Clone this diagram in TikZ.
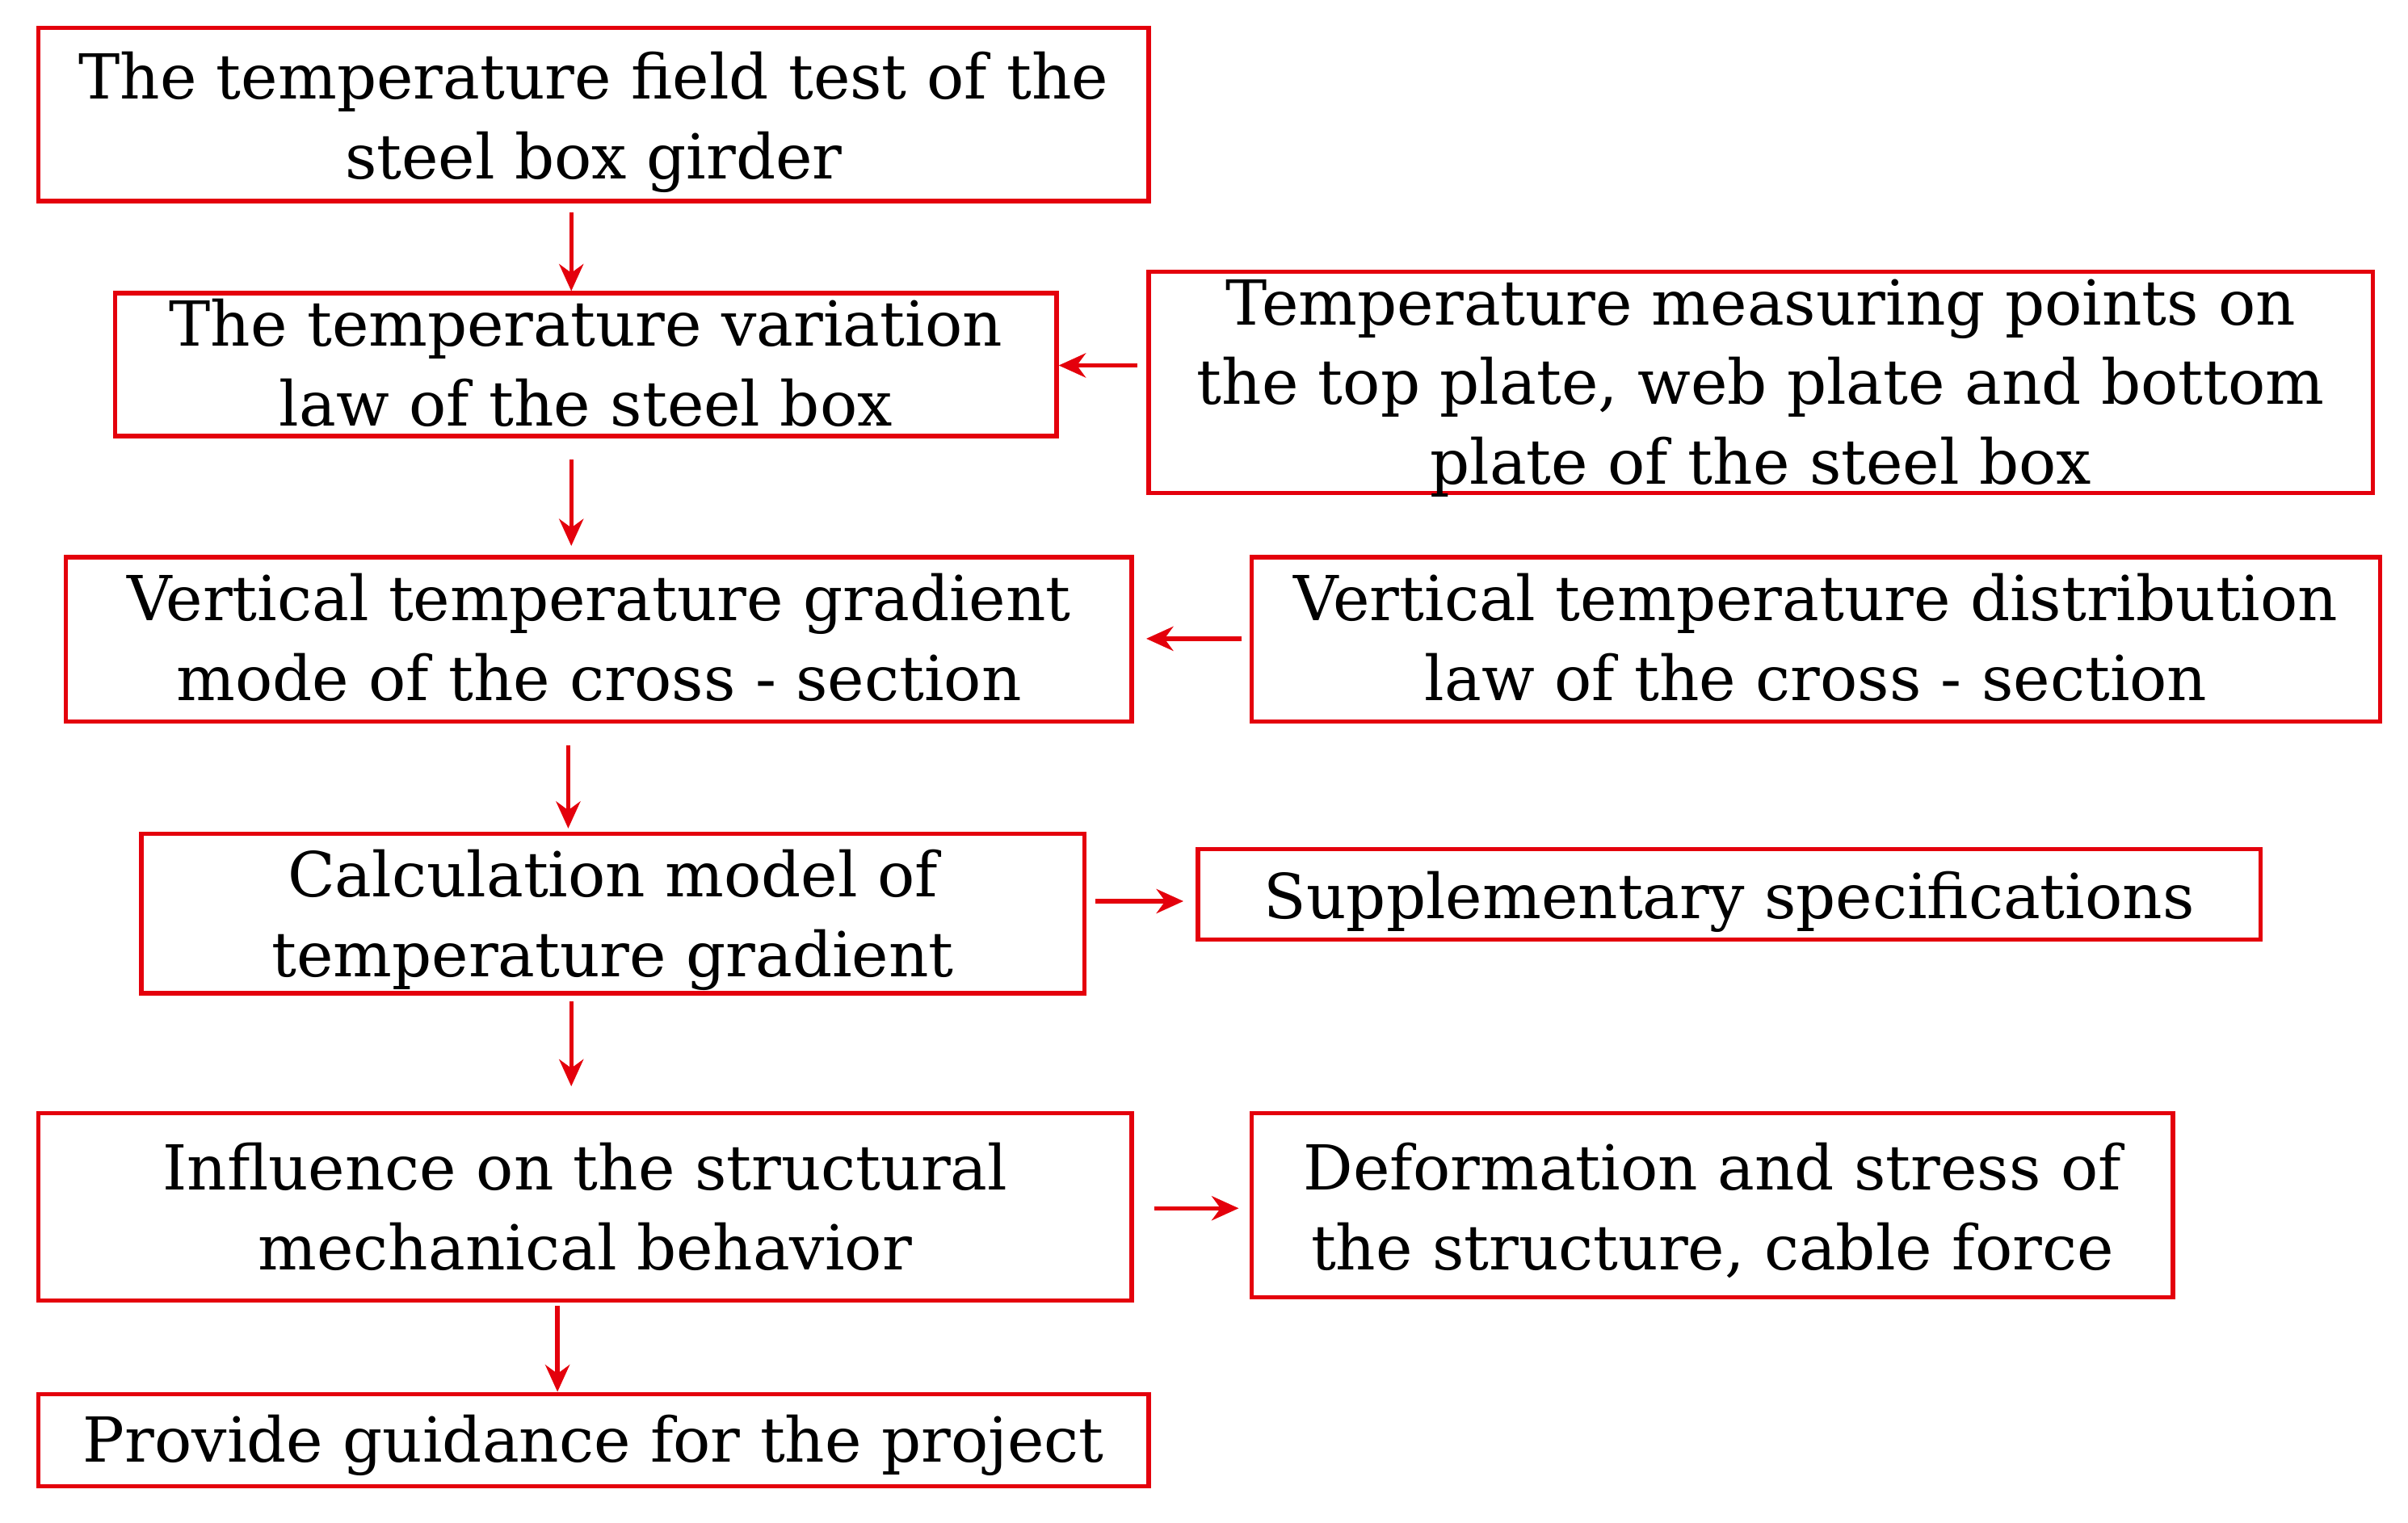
\documentclass[tikz,border=0pt]{standalone}
\usepackage{fontspec}
\setmainfont{DejaVu Serif}
\usetikzlibrary{arrows.meta}
\definecolor{boxred}{RGB}{228,0,12}
\newcommand\ltxt[2]{\raisebox{\dimexpr#1-5.75pt\relax}[0pt][0pt]{\begin{tabular}{@{}c@{}}#2\end{tabular}}}
\begin{document}
\begin{tikzpicture}[x=0.02cm,y=-0.02cm,
  box/.style={draw=boxred,line width=1.6pt,inner sep=0pt,
    font=\fontsize{23}{29.6}\selectfont},
  arr/.style={draw=boxred,line width=1.6pt,-{Stealth[length=10pt,width=9pt]}}]
\useasboundingbox (0,0) rectangle (1568,992);
\fill[white] (0,0) rectangle (1568,992);
\node[box,minimum width=723*0.02cm,minimum height=113*0.02cm] (b1) at (386.5,74.5)
  {\ltxt{-3.6pt}{The temperature field test of the\\steel box girder}};
\node[box,minimum width=613*0.02cm,minimum height=93*0.02cm] (b2) at (381.5,237.5)
  {\ltxt{-2.5pt}{The temperature variation\\law of the steel box}};
\node[box,minimum width=797*0.02cm,minimum height=144*0.02cm] (b3) at (1146.5,249)
  {\ltxt{-2.8pt}{Temperature measuring points on\\the top plate, web plate and bottom\\plate of the steel box}};
\node[box,minimum width=694*0.02cm,minimum height=107*0.02cm] (b4) at (390,416.5)
  {\ltxt{-2.5pt}{Vertical temperature gradient\\mode of the cross - section}};
\node[box,minimum width=735*0.02cm,minimum height=107*0.02cm] (b5) at (1182.5,416.5)
  {\ltxt{-2.5pt}{Vertical temperature distribution\\law of the cross - section}};
\node[box,minimum width=614*0.02cm,minimum height=104*0.02cm] (b6) at (399,595)
  {\ltxt{-3.15pt}{Calculation model of\\temperature gradient}};
\node[box,minimum width=692*0.02cm,minimum height=59*0.02cm] (b7) at (1126,582.5)
  {\ltxt{-3.4pt}{Supplementary specifications}};
\node[box,minimum width=712*0.02cm,minimum height=122*0.02cm] (b8) at (381,786)
  {\ltxt{-3.1pt}{Influence on the structural\\mechanical behavior}};
\node[box,minimum width=600*0.02cm,minimum height=120*0.02cm] (b9) at (1115,785)
  {\ltxt{-3.7pt}{Deformation and stress of\\the structure, cable force}};
\node[box,minimum width=723*0.02cm,minimum height=60*0.02cm] (b10) at (386.5,938)
  {\ltxt{-2.8pt}{Provide guidance for the project}};
\coordinate (xa) at (372,0);
\coordinate (xb) at (370,0);
\coordinate (xc) at (363,0);
\coordinate (ya) at (0,238);
\coordinate (yb) at (0,416);
\coordinate (yc) at (0,587);
\coordinate (yd) at (0,787);
\draw[arr,shorten <=6*0.02cm] (b1.south -| xa) -- (b2.north -| xa);
\draw[arr,shorten <=14*0.02cm,shorten >=6*0.02cm] (b2.south -| xa) -- (b4.north -| xa);
\draw[arr,shorten <=14*0.02cm,shorten >=2*0.02cm] (b4.south -| xb) -- (b6.north -| xb);
\draw[arr,shorten <=4*0.02cm,shorten >=16*0.02cm] (b6.south -| xa) -- (b8.north -| xa);
\draw[arr,shorten <=2*0.02cm] (b8.south -| xc) -- (b10.north -| xc);
\draw[arr,shorten <=6*0.02cm] (b3.west |- ya) -- (b2.east |- ya);
\draw[arr,shorten <=5*0.02cm,shorten >=8*0.02cm] (b5.west |- yb) -- (b4.east |- yb);
\draw[arr,shorten <=6*0.02cm,shorten >=8*0.02cm] (b6.east |- yc) -- (b7.west |- yc);
\draw[arr,shorten <=13*0.02cm,shorten >=7*0.02cm] (b8.east |- yd) -- (b9.west |- yd);
\end{tikzpicture}
\end{document}
